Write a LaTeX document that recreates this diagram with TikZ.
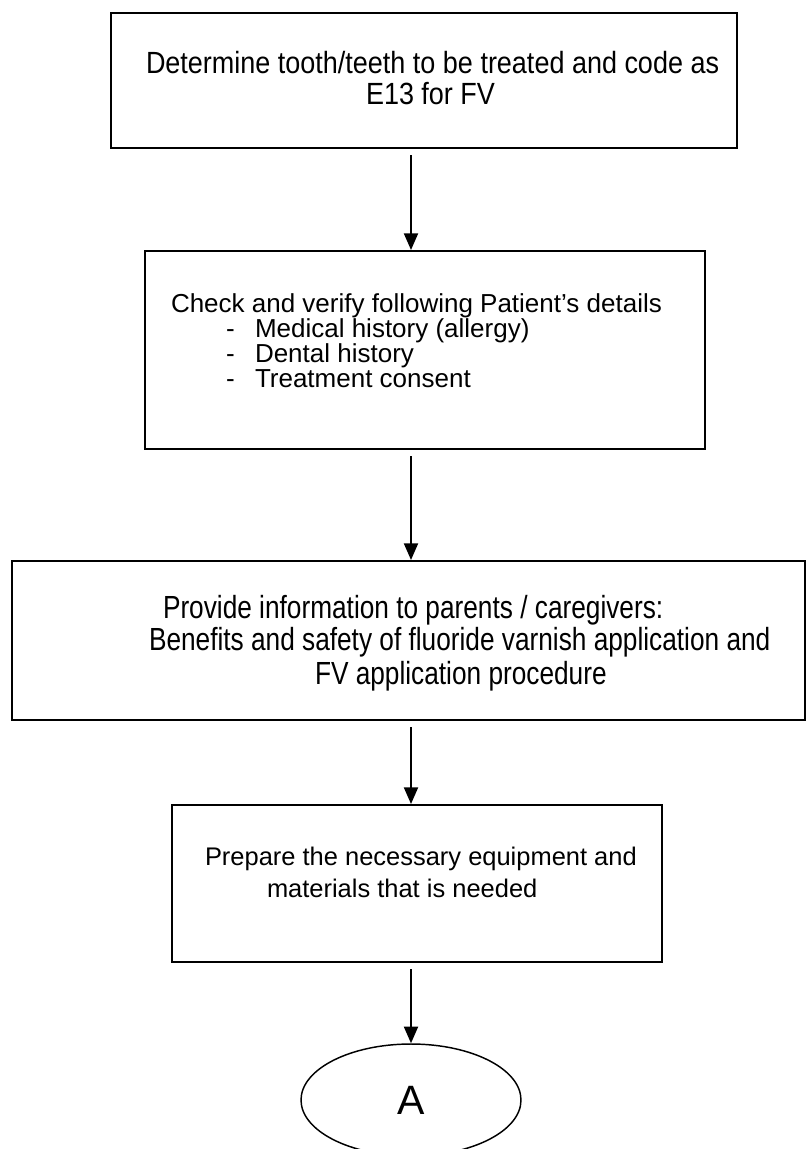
\documentclass[tikz,border=0pt]{standalone}
\usepackage{fontspec}
\setmainfont{Liberation Sans}
\newfontfamily\narrowsans[FakeStretch=0.82]{Liberation Sans}
\newfontfamily\headsans[FakeStretch=0.88]{Liberation Sans}
\usetikzlibrary{arrows.meta,shapes.geometric}
\begin{document}
\begin{tikzpicture}[x=0.75pt,y=-0.75pt,
  box/.style={draw=black, line width=1.5pt, rectangle, inner sep=0pt},
  txt/.style={anchor=base west, inner sep=0pt, outer sep=0pt},
  fonta/.style={font=\headsans\fontsize{23pt}{28pt}\selectfont},
  fontb/.style={font=\fontsize{19.5pt}{23pt}\selectfont},
  fontc/.style={font=\narrowsans\fontsize{24pt}{28pt}\selectfont},
  fontd/.style={font=\fontsize{19.1pt}{23pt}\selectfont},
  flow/.style={draw=black, line width=1.5pt,
    -{Triangle[length=12.5pt,width=10.5pt]}, shorten <=4.5pt}]
\useasboundingbox (0,0) rectangle (806,1149);
\clip (0,0) rectangle (806,1149);

% process boxes
\node[box, minimum width=469.5pt, minimum height=101.25pt] (b1) at (424,80.5) {};
\node[box, minimum width=420pt, minimum height=148.5pt] (b2) at (425,350) {};
\node[box, minimum width=594.75pt, minimum height=119.25pt] (b3) at (408.5,640.5) {};
\node[box, minimum width=367.5pt, minimum height=117.75pt] (b4) at (417,883.5) {};

% off-page connector
\node[draw=black, line width=1.1pt, ellipse, inner sep=0pt,
  minimum width=165pt, minimum height=84pt,
  font=\fontsize{30.75pt}{34pt}\selectfont] (endA) at (411,1100) {A};

% box texts
\node[txt, fonta] (t1a) at (146,74) {Determine tooth/teeth to be treated and code as};
\node[txt, fonta] (t1b) at (366,104) {E13 for FV};

\node[txt, fontb] (t2a) at (171,312) {Check and verify following Patient’s details};
\node[txt, fontb] (d2a) at (226,337) {-};
\node[txt, fontb] (t2b) at (255,337) {Medical history (allergy)};
\node[txt, fontb] (d2b) at (226,362) {-};
\node[txt, fontb] (t2c) at (255,362) {Dental history};
\node[txt, fontb] (d2c) at (226,387) {-};
\node[txt, fontb] (t2d) at (255,387) {Treatment consent};

\node[txt, fontc] (t3a) at (163,618) {Provide information to parents / caregivers:};
\node[txt, fontc] (t3b) at (149,650) {Benefits and safety of fluoride varnish application and};
\node[txt, fontc] (t3c) at (315,684) {FV application procedure};

\node[txt, fontd] (t4a) at (205,865) {Prepare the necessary equipment and};
\node[txt, fontd] (t4b) at (267,897) {materials that is needed};

% connectors
\draw[flow] (b1.south -| endA.center) -- (b2.north -| endA.center);
\draw[flow] (b2.south -| endA.center) -- (b3.north -| endA.center);
\draw[flow] (b3.south -| endA.center) -- (b4.north -| endA.center);
\draw[flow] (b4.south -| endA.center) -- (endA.north);
\end{tikzpicture}
\end{document}
